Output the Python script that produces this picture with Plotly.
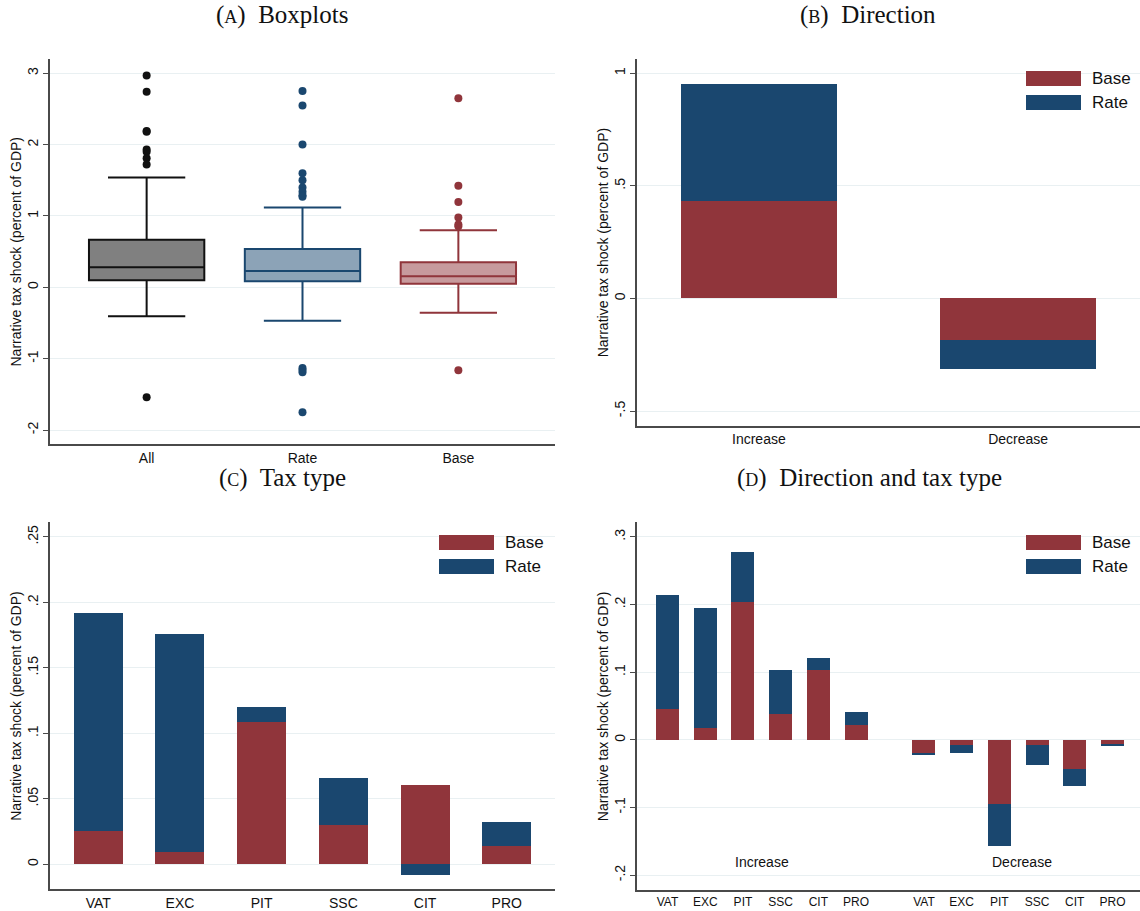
import plotly.graph_objects as go

# ---- data -------------------------------------------------------------
box_cats = ["All", "Rate", "Base"]
box_q1 = [0.098, 0.084, 0.051]
box_median = [0.28, 0.229, 0.154]
box_q3 = [0.668, 0.537, 0.35]
box_lower = [-0.406, -0.467, -0.355]
box_upper = [1.54, 1.12, 0.80]
outliers_all = [2.97, 2.74, 2.19, 2.18, 1.93, 1.90, 1.81, 1.72, -1.54]
outliers_rate = [2.75, 2.55, 2.0, 1.60, 1.50, 1.40, 1.34, 1.29, 1.27,
                 -1.13, -1.16, -1.19, -1.75]
outliers_base = [2.65, 1.425, 1.196, 0.98, 0.88, 0.855, -1.164]

direction = ["Increase", "Decrease"]
dir_base = [0.433, -0.183]
dir_rate = [0.52, -0.132]

tax_types = ["VAT", "EXC", "PIT", "SSC", "CIT", "PRO"]
type_base = [0.0249, 0.0094, 0.1087, 0.0298, 0.0601, 0.014]
type_rate = [0.167, 0.1666, 0.0115, 0.0359, -0.0081, 0.0183]

inc_base = [0.0454, 0.0173, 0.2037, 0.038, 0.103, 0.0217]
inc_rate = [0.1686, 0.1777, 0.0743, 0.0656, 0.0178, 0.0197]
dec_base = [-0.0203, -0.008, -0.0947, -0.0087, -0.0432, -0.008]
dec_rate = [-0.0017, -0.0115, -0.0633, -0.0295, -0.0253, -0.0012]

# ---- styling ----------------------------------------------------------
W, H = 1140, 911
NAVY = "#1a476f"
MAROON = "#90353b"
GRID = "#e9f0f2"
AXIS = "#4a4a4a"
SANS = "Liberation Sans, Arial, sans-serif"
SERIF = "Liberation Serif, Times New Roman, serif"


def px_x(v):
    return v / W


def px_y(v):
    return 1 - v / H


fig = go.Figure()

# ---- (a) boxplots -----------------------------------------------------
box_fill = ["#808080", "#8ca3b7", "#c79a9d"]
box_line = ["#111111", NAVY, MAROON]
outlier_sets = [outliers_all, outliers_rate, outliers_base]
for i, cat in enumerate(box_cats):
    fig.add_trace(go.Box(
        x=[cat], q1=[box_q1[i]], median=[box_median[i]], q3=[box_q3[i]],
        lowerfence=[box_lower[i]], upperfence=[box_upper[i]],
        fillcolor=box_fill[i], line=dict(color=box_line[i], width=2),
        width=0.74, whiskerwidth=0.67, boxpoints=False,
        showlegend=False, hoverinfo="skip", xaxis="x", yaxis="y"))
    fig.add_trace(go.Scatter(
        x=[cat] * len(outlier_sets[i]), y=outlier_sets[i], mode="markers",
        marker=dict(color=box_line[i], size=8), showlegend=False,
        xaxis="x", yaxis="y"))

# ---- (b) direction ----------------------------------------------------
fig.add_trace(go.Bar(x=direction, y=dir_base, marker_color=MAROON,
                     marker_line_width=0, width=0.6, showlegend=False,
                     xaxis="x2", yaxis="y2"))
fig.add_trace(go.Bar(x=direction, y=dir_rate, marker_color=NAVY,
                     marker_line_width=0, width=0.6, showlegend=False,
                     xaxis="x2", yaxis="y2"))

# ---- (c) tax type -----------------------------------------------------
fig.add_trace(go.Bar(x=tax_types, y=type_base, marker_color=MAROON,
                     marker_line_width=0, width=0.6, showlegend=False,
                     xaxis="x3", yaxis="y3"))
fig.add_trace(go.Bar(x=tax_types, y=type_rate, marker_color=NAVY,
                     marker_line_width=0, width=0.6, showlegend=False,
                     xaxis="x3", yaxis="y3"))

# ---- (d) direction and tax type ---------------------------------------
GROUP_GAP = 6.8
d_pos = list(range(len(tax_types))) + [i + GROUP_GAP for i in range(len(tax_types))]
fig.add_trace(go.Bar(x=d_pos, y=inc_base + dec_base, marker_color=MAROON,
                     marker_line_width=0, width=0.61, showlegend=False,
                     xaxis="x4", yaxis="y4"))
fig.add_trace(go.Bar(x=d_pos, y=inc_rate + dec_rate, marker_color=NAVY,
                     marker_line_width=0, width=0.61, showlegend=False,
                     xaxis="x4", yaxis="y4"))

# ---- axes -------------------------------------------------------------
xa_left = [px_x(50), px_x(555)]
xa_right = [px_x(637), 1.0]


def xaxis(domain, anchor, **kw):
    d = dict(domain=domain, anchor=anchor, showline=True, linecolor=AXIS,
             linewidth=1.5, showgrid=False, zeroline=False, ticks="",
             tickfont=dict(family=SANS, size=14, color="#111"))
    d.update(kw)
    return d


def yaxis(domain, anchor, rng, vals, texts):
    return dict(domain=domain, anchor=anchor, range=rng, showline=True,
                linecolor=AXIS, linewidth=1.5, showgrid=True, gridcolor=GRID,
                gridwidth=1, zeroline=False, ticks="outside", ticklen=5,
                tickcolor=AXIS, tickwidth=1.2, tickangle=-90,
                tickvals=vals, ticktext=texts,
                tickfont=dict(family=SANS, size=14, color="#111"))


fig.update_layout(
    width=W, height=H, margin=dict(l=0, r=0, t=0, b=0),
    paper_bgcolor="white", plot_bgcolor="white",
    barmode="relative", boxmode="overlay", bargap=0,
    xaxis=xaxis(xa_left, "y", range=[-0.62, 2.62], type="category"),
    yaxis=yaxis([px_y(444), px_y(59)], "x", [-2.196, 3.2],
                [-2, -1, 0, 1, 2, 3], ["-2", "-1", "0", "1", "2", "3"]),
    xaxis2=xaxis(xa_right, "y2", range=[-0.47, 1.47], type="category"),
    yaxis2=yaxis([px_y(425.7), px_y(59)], "x2", [-0.565, 1.0636],
                 [-0.5, 0, 0.5, 1], ["-.5", "0", ".5", "1"]),
    xaxis3=xaxis(xa_left, "y3", range=[-0.59, 5.59], type="category"),
    yaxis3=yaxis([px_y(889.3), px_y(522.3)], "x3", [-0.0191, 0.2612],
                 [0, 0.05, 0.1, 0.15, 0.2, 0.25],
                 ["0", ".05", ".1", ".15", ".2", ".25"]),
    xaxis4=xaxis(xa_right, "y4", range=[-0.81, 12.53],
                 tickvals=d_pos, ticktext=tax_types + tax_types,
                 tickfont=dict(family=SANS, size=12, color="#111")),
    yaxis4=yaxis([px_y(890), px_y(522.3)], "x4", [-0.222, 0.3217],
                 [-0.2, -0.1, 0, 0.1, 0.2, 0.3],
                 ["-.2", "-.1", "0", ".1", ".2", ".3"]),
)

annotations = []
ytitle = "Narrative tax shock (percent of GDP)"
# y-axis titles
for x_px, y_lo, y_hi in [(16, 59, 444), (603, 59, 425.7),
                         (16, 522.3, 889.3), (603, 522.3, 890)]:
    annotations.append(dict(
        x=px_x(x_px), y=(px_y(y_lo) + px_y(y_hi)) / 2, xref="paper",
        yref="paper", text=ytitle, textangle=-90, showarrow=False,
        font=dict(family=SANS, size=14, color="#111"),
        xanchor="center", yanchor="middle"))

# panel titles with small-caps letters
sc = "<span style='font-size:18px'>%s</span>"
for x_px, y_px, letter, label in [(282, 15, "A", "Boxplots"),
                                  (868, 15, "B", "Direction"),
                                  (282, 478, "C", "Tax type"),
                                  (869, 478, "D", "Direction and tax type")]:
    annotations.append(dict(
        x=px_x(x_px), y=px_y(y_px), xref="paper", yref="paper",
        text="(" + sc % letter + ")  " + label, showarrow=False,
        font=dict(family=SERIF, size=25, color="#111"),
        xanchor="center", yanchor="middle"))

# group labels inside panel (d)
for xv, txt in [(2.5, "Increase"), (9.4, "Decrease")]:
    annotations.append(dict(
        x=xv, y=-0.181, xref="x4", yref="y4", text=txt, showarrow=False,
        font=dict(family=SANS, size=14, color="#111"),
        xanchor="center", yanchor="middle"))

# legends for the bar panels
shapes = []
for x0, y0 in [(1026, 71), (439, 535), (1026, 535)]:
    for k, (name, col) in enumerate([("Base", MAROON), ("Rate", NAVY)]):
        top = y0 + k * 24
        shapes.append(dict(type="rect", xref="paper", yref="paper",
                           x0=px_x(x0), x1=px_x(x0 + 55),
                           y0=px_y(top + 15), y1=px_y(top),
                           fillcolor=col, line=dict(width=0)))
        annotations.append(dict(
            x=px_x(x0 + 64), y=px_y(top + 7.5), xref="paper", yref="paper",
            text=name, showarrow=False,
            font=dict(family=SANS, size=17, color="#111"),
            xanchor="left", yanchor="middle"))

fig.update_layout(annotations=annotations, shapes=shapes)

fig.write_html("out.html")
